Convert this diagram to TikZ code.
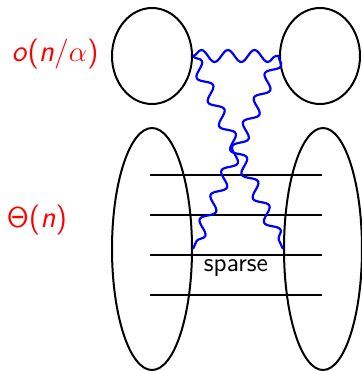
\documentclass[tikz,border=0pt]{standalone}
\usetikzlibrary{shapes.geometric,decorations.pathmorphing}
\begin{document}
\begin{tikzpicture}[x=0.5pt,y=-0.5pt,
  blob/.style={draw,ellipse,line width=1pt,inner sep=0pt},
  smallblob/.style={blob,minimum width=40pt,minimum height=48pt},
  bigblob/.style={blob,minimum width=40pt,minimum height=121pt},
  wavy/.style={draw=blue,line width=1.1pt,decorate,decoration={snake,segment length=13.3pt,amplitude=3pt}},
  rung/.style={line width=1pt},
  lbl/.style={text=red,font=\fontsize{15}{18}\selectfont\sffamily,inner sep=0pt},
  txt/.style={font=\fontsize{13}{15}\selectfont\sffamily,inner sep=0pt}]
\useasboundingbox (0,0) rectangle (362,371);
\node[smallblob] (tl) at (152,56) {};
\node[smallblob] (tr) at (320,56) {};
\node[bigblob] (bl) at (152,249) {};
\node[bigblob,minimum width=39pt] (br) at (323,249) {};
\foreach \y in {175,215,255,295} \draw[rung] (150,\y) -- (322,\y);
\node[txt] (sp) at (236,268) {sparse};
\draw[wavy] (tl.east) -- (tr.west);
\draw[wavy] (tl.east) -- (br.west);
\draw[wavy] (tr.west) -- (bl.east);
\node[lbl] (small) at (55,54) {\textit{o}(\textit{n}/$\alpha$)};
\node[lbl] (big) at (37,220) {$\mathsf{\Theta}$(\textit{n})};
\end{tikzpicture}
\end{document}
